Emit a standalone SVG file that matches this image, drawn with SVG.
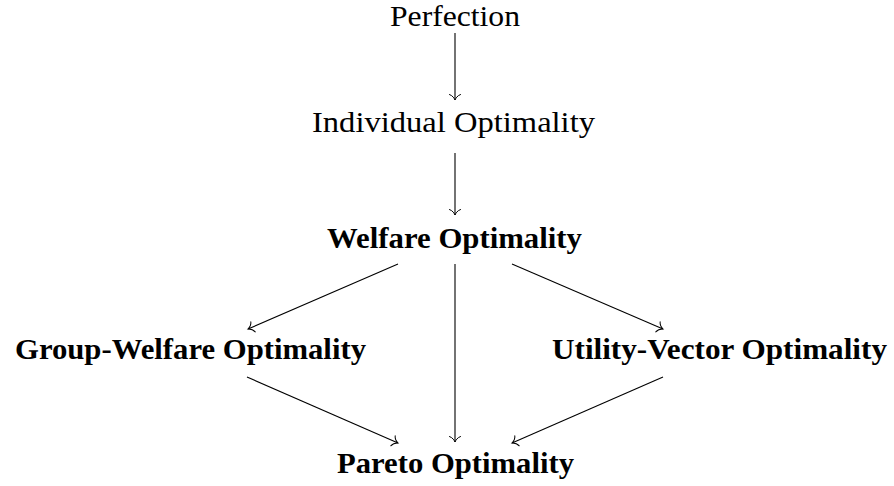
<svg xmlns="http://www.w3.org/2000/svg" width="894" height="486" viewBox="0 0 894 486">
<defs>
<marker id="arr" markerUnits="userSpaceOnUse" markerWidth="12" markerHeight="12" refX="0" refY="0" orient="auto" overflow="visible" viewBox="-6 -6 12 12">
<path d="M -5.5,-5.5 C -4.4,-2.2 -1.3,-0.5 0,0 C -1.3,0.5 -4.4,2.2 -5.5,5.5" fill="none" stroke="#000" stroke-width="1" stroke-linecap="round"/>
</marker>
</defs>
<style>
text { font-family: "Liberation Serif", "Times New Roman", serif; font-size: 30px; fill: #000; }
.b { font-weight: bold; }
.e { fill: none; stroke: #000; stroke-width: 1.1; marker-end: url(#arr); }
</style>
<rect width="894" height="486" fill="#fff"/>
<g id="connectors">
<line class="e" x1="455" y1="33" x2="455" y2="100"/>
<line class="e" x1="455" y1="153" x2="455" y2="215"/>
<line class="e" x1="398" y1="264" x2="248" y2="329"/>
<line class="e" x1="512" y1="264" x2="663" y2="329"/>
<line class="e" x1="455" y1="264" x2="455" y2="442"/>
<line class="e" x1="247" y1="377" x2="398" y2="443"/>
<line class="e" x1="663" y1="377" x2="512" y2="443"/>
</g>
<g id="perfection"><text x="390" y="26" textLength="130" lengthAdjust="spacingAndGlyphs">Perfection</text></g>
<g id="individual"><text x="312" y="132" textLength="283" lengthAdjust="spacingAndGlyphs">Individual Optimality</text></g>
<g id="welfare"><text class="b" x="327" y="248" textLength="255" lengthAdjust="spacingAndGlyphs">Welfare Optimality</text></g>
<g id="group-welfare"><text class="b" x="15" y="359" textLength="351" lengthAdjust="spacingAndGlyphs">Group-Welfare Optimality</text></g>
<g id="utility-vector"><text class="b" x="552" y="359" textLength="335" lengthAdjust="spacingAndGlyphs">Utility-Vector Optimality</text></g>
<g id="pareto"><text class="b" x="337" y="473" textLength="237" lengthAdjust="spacingAndGlyphs">Pareto Optimality</text></g>
</svg>
